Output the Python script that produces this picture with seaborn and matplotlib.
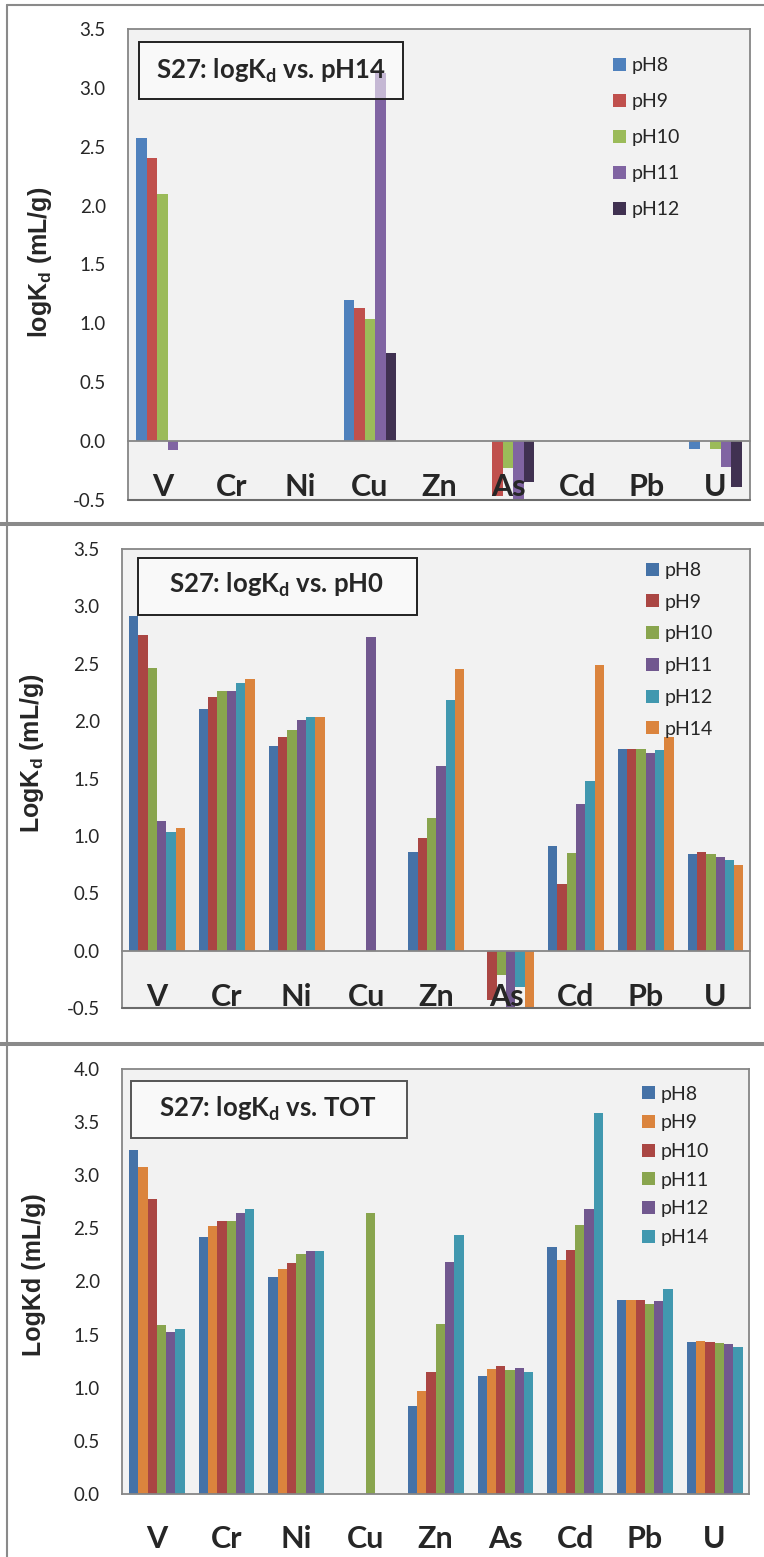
import numpy as np
import pandas as pd
import matplotlib
matplotlib.use("Agg")
import matplotlib.pyplot as plt
import seaborn as sns
from matplotlib.lines import Line2D
from matplotlib.patches import Rectangle

nan = np.nan
elements = ["V", "Cr", "Ni", "Cu", "Zn", "As", "Cd", "Pb", "U"]

# ---- Panel 1: logKd vs. pH14 ----
p1_levels = ["pH8", "pH9", "pH10", "pH11", "pH12"]
p1_pH8 = [2.57, nan, nan, 1.20, nan, nan, nan, nan, -0.07]
p1_pH9 = [2.40, nan, nan, 1.13, nan, -0.47, nan, nan, nan]
p1_pH10 = [2.10, nan, nan, 1.04, nan, -0.23, nan, nan, -0.065]
p1_pH11 = [-0.075, nan, nan, 3.13, nan, -0.53, nan, nan, -0.22]
p1_pH12 = [nan, nan, nan, 0.75, nan, -0.35, nan, nan, -0.39]
p1_colors = ["#4F81BD", "#C0504D", "#9BBB59", "#8064A2", "#403151"]

# ---- Panel 2: logKd vs. pH0 ----
p2_levels = ["pH8", "pH9", "pH10", "pH11", "pH12", "pH14"]
p2_pH8 = [2.92, 2.11, 1.78, nan, 0.86, nan, 0.91, 1.76, 0.84]
p2_pH9 = [2.75, 2.21, 1.86, nan, 0.98, -0.43, 0.58, 1.76, 0.86]
p2_pH10 = [2.46, 2.26, 1.92, nan, 1.16, -0.21, 0.85, 1.76, 0.84]
p2_pH11 = [1.13, 2.26, 2.01, 2.73, 1.61, -0.53, 1.28, 1.72, 0.82]
p2_pH12 = [1.03, 2.33, 2.04, nan, 2.18, -0.32, 1.48, 1.75, 0.79]
p2_pH14 = [1.07, 2.37, 2.04, nan, 2.45, -0.55, 2.49, 1.86, 0.75]
p2_colors = ["#4572A7", "#AA4643", "#89A54E", "#71588F", "#4198AF", "#DB843D"]

# ---- Panel 3: logKd vs. TOT ----
p3_levels = ["pH8", "pH9", "pH10", "pH11", "pH12", "pH14"]
p3_pH8 = [3.24, 2.42, 2.04, nan, 0.83, 1.11, 2.32, 1.83, 1.43]
p3_pH9 = [3.08, 2.52, 2.12, nan, 0.97, 1.18, 2.20, 1.83, 1.44]
p3_pH10 = [2.78, 2.57, 2.17, nan, 1.15, 1.20, 2.30, 1.83, 1.43]
p3_pH11 = [1.59, 2.57, 2.26, 2.64, 1.60, 1.17, 2.53, 1.79, 1.42]
p3_pH12 = [1.52, 2.645, 2.29, nan, 2.18, 1.19, 2.68, 1.82, 1.41]
p3_pH14 = [1.55, 2.68, 2.29, nan, 2.44, 1.15, 3.59, 1.93, 1.38]
p3_colors = ["#4572A7", "#DB843D", "#AA4643", "#89A54E", "#71588F", "#4198AF"]

sns.set_style("white")
plt.rcParams["font.family"] = ["Lato", "DejaVu Sans"]
plt.rcParams["mathtext.default"] = "regular"

GRAY = "#868686"


def long_df(levels, series):
    rows = []
    for lev, vals in zip(levels, series):
        for el, v in zip(elements, vals):
            if not np.isnan(v):
                rows.append({"element": el, "pH": lev, "logKd": v})
    return pd.DataFrame(rows)


def panel(rect, levels, series, colors, ylim, yticks, ylabel, title, width,
          crossed, box, text_xy, leg_anchor, leg_spacing, ylab_xy, box_edge):
    ax = fig.add_axes(rect)
    df = long_df(levels, series)
    sns.barplot(data=df, x="element", y="logKd", hue="pH", order=elements,
                hue_order=levels, palette=colors, width=width, saturation=1,
                errorbar=None, linewidth=0, edgecolor="none", ax=ax, zorder=2)
    ax.set_axisbelow(False)
    ax.set_facecolor("#F2F2F2")
    ax.set_xlim(-0.5, len(elements) - 0.5)
    ax.set_ylim(*ylim)
    ax.set_yticks(yticks)
    ax.set_yticklabels([f"{t:.1f}" for t in yticks])
    ax.tick_params(axis="y", direction="out", length=7, width=1.2,
                   color=GRAY, pad=9, labelsize=13.5)
    for s in ax.spines.values():
        s.set_color(GRAY)
        s.set_linewidth(1.3)
        s.set_visible(True)
    if crossed:
        ax.spines["bottom"].set_position(("data", 0))
        ax.add_line(Line2D([0, 1], [0, 0], transform=ax.transAxes,
                           color="#6b6b6b", lw=1.5, clip_on=False, zorder=5))
        minor = np.arange(0.5, len(elements) - 1, 1.0)
        pad = 23
    else:
        minor = np.arange(-0.5, len(elements), 1.0)
        pad = 22
    ax.set_xticks(range(len(elements)))
    ax.set_xticklabels(elements)
    ax.set_xticks(minor, minor=True)
    ax.tick_params(axis="x", which="major", length=0, pad=pad,
                   labelsize=22)
    for lab in ax.get_xticklabels():
        lab.set_fontweight("bold")
    ax.tick_params(axis="x", which="minor", direction="out", length=11,
                   width=1.2, color=GRAY)
    ax.set_xlabel("")
    ax.set_ylabel(ylabel, fontsize=18, fontweight="bold",
                  family=["Liberation Sans", "DejaVu Sans"])
    ax.yaxis.set_label_coords(*ylab_xy)
    # title box
    ax.add_patch(Rectangle((box[0], box[1]), box[2] - box[0], box[3] - box[1],
                           transform=ax.transAxes, facecolor=(1, 1, 1, 0.55),
                           edgecolor=box_edge, lw=1.4, zorder=4))
    ax.text(text_xy[0], text_xy[1], title, transform=ax.transAxes,
            ha="center", va="center", fontsize=18.5, fontweight="bold",
            zorder=5)
    sns.move_legend(ax, "upper left", bbox_to_anchor=leg_anchor,
                    frameon=False, title=None, fontsize=14,
                    handlelength=0.65, handleheight=0.65, handletextpad=0.3,
                    labelspacing=leg_spacing, borderpad=0, borderaxespad=0)
    return ax


fig = plt.figure(figsize=(7.64, 15.57), dpi=100)

panel([0.1675, 0.6789, 0.8141, 0.3025], p1_levels,
      [p1_pH8, p1_pH9, p1_pH10, p1_pH11, p1_pH12], p1_colors,
      (-0.5, 3.5), np.arange(-0.5, 3.51, 0.5),
      "logK$_{d}$ (mL/g)", "S27: logK$_{d}$ vs. pH14", 0.76, True,
      (0.0177, 0.8514, 0.442, 0.9724), (0.229, 0.912), (0.78, 0.94), 0.98,
      (-0.119, 0.505), "#222222")

panel([0.1597, 0.3526, 0.8226, 0.2948], p2_levels,
      [p2_pH8, p2_pH9, p2_pH10, p2_pH11, p2_pH12, p2_pH14], p2_colors,
      (-0.5, 3.5), np.arange(-0.5, 3.51, 0.5),
      "LogK$_{d}$ (mL/g)", "S27: logK$_{d}$ vs. pH0", 0.8, True,
      (0.0255, 0.856, 0.469, 0.980), (0.246, 0.921), (0.834, 0.972), 0.76,
      (-0.121, 0.556), "#222222")

panel([0.1597, 0.04046, 0.8213, 0.2730], p3_levels,
      [p3_pH8, p3_pH9, p3_pH10, p3_pH11, p3_pH12, p3_pH14], p3_colors,
      (0.0, 4.0), np.arange(0.0, 4.01, 0.5),
      "LogKd (mL/g)", "S27: logK$_{d}$ vs. TOT", 0.8, False,
      (0.0143, 0.838, 0.454, 0.972), (0.232, 0.906), (0.829, 0.961), 0.60,
      (-0.121, 0.515), "#555555")

# panel frames
H = 1557.0
W = 764.0
fig.add_artist(Line2D([7 / W, 7 / W], [0, 1 - 5 / H], color="#8a8a8a", lw=1.5))
fig.add_artist(Line2D([7 / W, 1], [1 - 5 / H, 1 - 5 / H], color="#8a8a8a", lw=1.5))
for yy in (523.5, 1044):
    fig.add_artist(Line2D([0, 1], [1 - yy / H, 1 - yy / H], color="#8a8a8a", lw=2.9))

fig.savefig("out.png", dpi=100, facecolor="white")
